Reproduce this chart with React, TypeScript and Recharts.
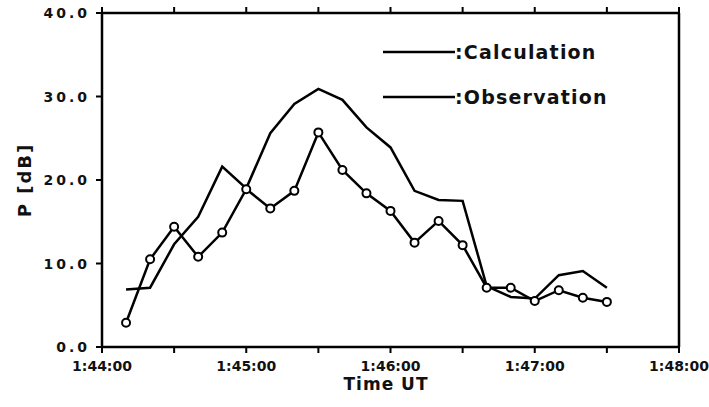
import React from 'react';
import { LineChart, Line, XAxis, YAxis } from 'recharts';

// seconds after 1:44:00
const times = [10, 20, 30, 40, 50, 60, 70, 80, 90, 100, 110, 120, 130, 140, 150, 160, 170, 180, 190, 200, 210];
const calculation = [6.9, 7.1, 12.3, 15.6, 21.6, 19.0, 25.6, 29.1, 30.9, 29.6, 26.3, 23.9, 18.7, 17.6, 17.5, 7.3, 6.0, 5.8, 8.6, 9.1, 7.1];
const observation = [2.9, 10.5, 14.4, 10.8, 13.7, 18.9, 16.6, 18.7, 25.7, 21.2, 18.4, 16.3, 12.5, 15.1, 12.2, 7.1, 7.1, 5.5, 6.8, 5.9, 5.4];
const xTicks = [0, 30, 60, 90, 120, 150, 180, 210, 240];
const yTicks = [0, 10, 20, 30, 40];

const data = times.map((t, i) => ({ t, calc: calculation[i], obs: observation[i] }));

const FONT = '"DejaVu Sans", sans-serif';
const TS = 6; // tick length
const TM = 2; // tick margin

const fmtTime = (s: number) => {
  const m = 44 + Math.floor(s / 60);
  const sec = s % 60;
  return `1:${m}:${sec < 10 ? '0' + sec : sec}`;
};

const XTick = (props: any) => {
  const { x, y, payload } = props;
  const base = y - TM;
  return (
    <g>
      <rect x={x - 1} y={base - TS} width={2} height={TS} fill="#000" />
      {payload.value % 60 === 0 && (
        <text x={x} y={y + 16} textAnchor="middle" fontFamily={FONT} fontWeight="bold" fontSize={14} fill="#111">
          {fmtTime(payload.value)}
        </text>
      )}
    </g>
  );
};

const TopTick = (props: any) => {
  const { x, y } = props;
  const base = y + TM;
  return <rect x={x - 1} y={base} width={2} height={TS} fill="#000" />;
};

const YTick = (props: any) => {
  const { x, y, payload } = props;
  const base = x + TM;
  return (
    <g>
      <rect x={base} y={y - 1} width={TS} height={2} fill="#000" />
      <text x={x - 4} y={y + 5} textAnchor="end" fontFamily={FONT} fontWeight="bold" fontSize={14} letterSpacing={3} fill="#111">
        {payload.value.toFixed(1)}
      </text>
    </g>
  );
};

const RightTick = (props: any) => {
  const { x, y } = props;
  const base = x - TM;
  return <rect x={base - TS} y={y - 1} width={TS} height={2} fill="#000" />;
};

const Dot = (props: any) => {
  const { cx, cy } = props;
  return <circle cx={cx} cy={cy} r={4} fill="#fff" stroke="#000" strokeWidth={2} />;
};

export default function App() {
  return (
    <div style={{ position: 'absolute', left: 0, top: 0, width: 709, height: 407, background: '#fff' }}>
      <LineChart width={709} height={407} data={data} margin={{ top: 12, right: 29, bottom: 0, left: 0 }}>
        <XAxis
          dataKey="t"
          type="number"
          domain={[0, 240]}
          ticks={xTicks}
          tick={<XTick />}
          tickSize={TS}
          tickMargin={TM}
          tickLine={false}
          stroke="#000"
          strokeWidth={2.5}
          height={60}
        />
        <XAxis
          xAxisId="top"
          orientation="top"
          dataKey="t"
          type="number"
          domain={[0, 240]}
          ticks={xTicks}
          tick={<TopTick />}
          tickSize={TS}
          tickMargin={TM}
          tickLine={false}
          stroke="#000"
          strokeWidth={2.5}
          height={1}
        />
        <YAxis
          type="number"
          domain={[0, 40]}
          ticks={yTicks}
          tick={<YTick />}
          tickSize={TS}
          tickMargin={TM}
          tickLine={false}
          stroke="#000"
          strokeWidth={2.5}
          width={102}
        />
        <YAxis
          yAxisId="right"
          orientation="right"
          type="number"
          domain={[0, 40]}
          ticks={yTicks}
          tick={<RightTick />}
          tickSize={TS}
          tickMargin={TM}
          tickLine={false}
          stroke="#000"
          strokeWidth={2.5}
          width={1}
        />
        <Line dataKey="calc" stroke="#000" strokeWidth={2.5} dot={false} isAnimationActive={false} />
        <Line dataKey="obs" stroke="#000" strokeWidth={2.5} dot={<Dot />} isAnimationActive={false} />
      </LineChart>
      <div style={{ position: 'absolute', left: 386, top: 374, transform: 'translateX(-50%)', fontFamily: FONT, fontWeight: 'bold', fontSize: 17, letterSpacing: 1, color: '#111', whiteSpace: 'nowrap' }}>
        Time UT
      </div>
      <div style={{ position: 'absolute', left: 24, top: 180, transform: 'translate(-50%, -50%) rotate(-90deg)', fontFamily: FONT, fontWeight: 'bold', fontSize: 18, letterSpacing: 2, color: '#111', whiteSpace: 'nowrap' }}>
        P [dB]
      </div>
      <div style={{ position: 'absolute', left: 383, top: 37, fontFamily: FONT, fontWeight: 'bold', fontSize: 19, letterSpacing: 1.2, color: '#111' }}>
        {['Calculation', 'Observation'].map((name, i) => (
          <div key={name} style={{ display: 'flex', alignItems: 'center', height: 30, marginBottom: i === 0 ? 15 : 0 }}>
            <svg width={72} height={6} style={{ display: 'block' }}>
              <line x1={0} y1={3} x2={72} y2={3} stroke="#000" strokeWidth={2.5} />
            </svg>
            <span>:{name}</span>
          </div>
        ))}
      </div>
    </div>
  );
}
